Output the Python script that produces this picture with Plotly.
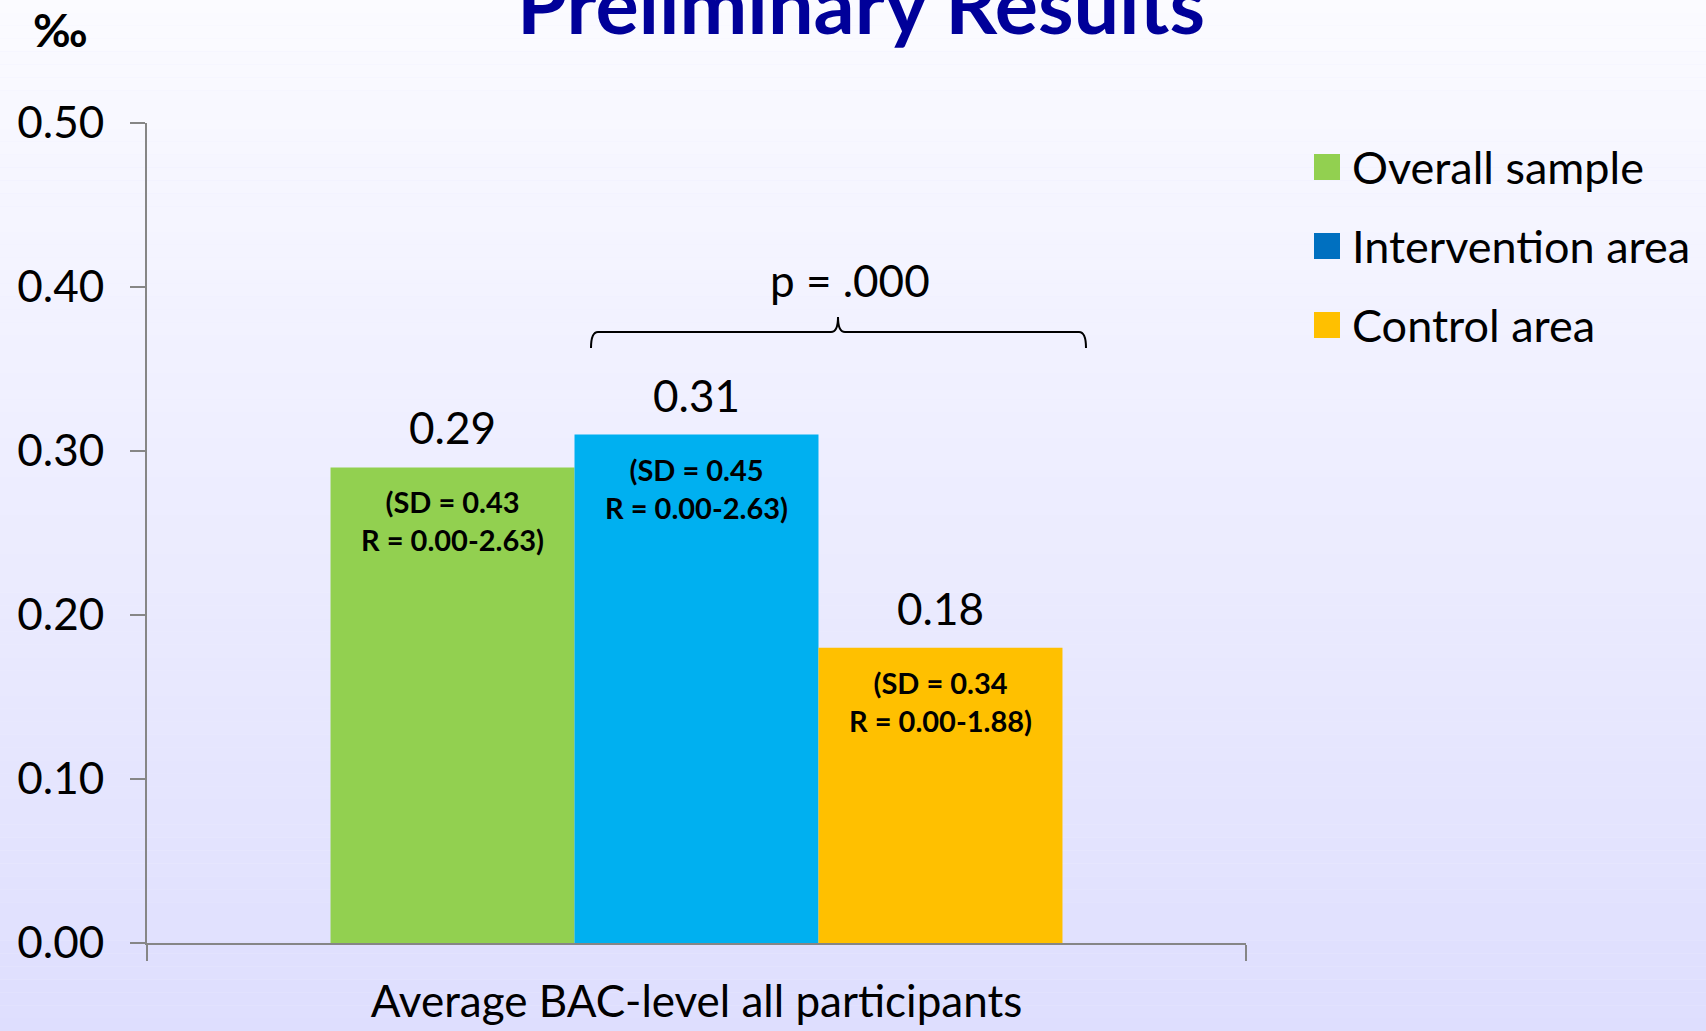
import plotly.graph_objects as go

# --- data -------------------------------------------------------------
category = ["Average BAC-level all participants"]
series_names = ["Overall sample", "Intervention area", "Control area"]
means = [0.29, 0.31, 0.18]
sds = [0.43, 0.45, 0.34]
ranges = ["0.00-2.63", "0.00-2.63", "0.00-1.88"]
y_ticks = [0.0, 0.1, 0.2, 0.3, 0.4, 0.5]
p_value_text = "p = .000"

bar_colors = ["#92D050", "#00B0F0", "#FFC000"]
legend_colors = ["#92D050", "#0070C0", "#FFC000"]

FONT = "Lato"
W, H = 1706, 1031
ML, MR, MT, MB = 147, 460, 123, 88
PW, PH = W - ML - MR, H - MT - MB
BARGAP = 0.334


def px_x(px):
    """Pixel column -> paper x."""
    return (px - ML) / PW


def px_y(py):
    """Pixel row -> paper y."""
    return (H - MB - py) / PH


fig = go.Figure()

for name, val, col in zip(series_names, means, bar_colors):
    fig.add_trace(go.Bar(
        x=category, y=[val], name=name,
        marker=dict(color=col, line=dict(width=0)),
        showlegend=False, hoverinfo="skip",
    ))

# bar centres inside the single category (serial-number scale)
n = len(means)
bw = (1 - BARGAP) / n
centres = [-(1 - BARGAP) / 2 + bw * (i + 0.5) for i in range(n)]

annotations = []
shapes = []

# background gradient, light at the top to lavender at the bottom
top_c = (251, 251, 255)
bot_c = (222, 222, 254)
bands = 80
y_top, y_bot = px_y(0), px_y(H)
for i in range(bands):
    t = (i + 0.5) / bands
    c = tuple(round(a + (b - a) * t) for a, b in zip(top_c, bot_c))
    y0 = y_top + (y_bot - y_top) * i / bands
    y1 = y_top + (y_bot - y_top) * (i + 1) / bands
    shapes.append(dict(
        type="rect", xref="paper", yref="paper",
        x0=px_x(0), x1=px_x(W), y0=y0, y1=y1,
        fillcolor="rgb(%d,%d,%d)" % c, line=dict(width=0), layer="below",
    ))

# value labels above bars and SD/range notes inside bars
for xc, val, sd, rg in zip(centres, means, sds, ranges):
    annotations.append(dict(
        x=xc, y=val, xref="x", yref="y", text=f"{val:.2f}",
        showarrow=False, xanchor="center", yanchor="bottom", yshift=12,
        font=dict(family=FONT, size=44, color="black"),
    ))
    annotations.append(dict(
        x=xc, y=val, xref="x", yref="y",
        text=f"<b>(SD = {sd:.2f}<br>R = {rg})</b>",
        showarrow=False, xanchor="center", yanchor="top", yshift=-15,
        font=dict(family=FONT, size=29, color="black"),
    ))

# legend drawn as squares + labels
legend_rows = [167, 246, 325]
for name, col, yc in zip(series_names, legend_colors, legend_rows):
    shapes.append(dict(
        type="rect", xref="paper", yref="paper",
        x0=px_x(1314), x1=px_x(1340), y0=px_y(yc + 13), y1=px_y(yc - 13),
        fillcolor=col, line=dict(width=0),
    ))
    annotations.append(dict(
        x=px_x(1350), y=px_y(yc), xref="paper", yref="paper", text=name,
        showarrow=False, xanchor="left", yanchor="middle",
        font=dict(family=FONT, size=45, color="black"),
    ))

# significance bracket
L, R, C = px_x(591), px_x(1086), px_x(838)
dx = 7 / PW
y_line, y_end, y_cusp = px_y(332), px_y(348), px_y(317)
path = (
    f"M {L},{y_end} Q {L},{y_line} {L + dx},{y_line} "
    f"L {C - dx},{y_line} Q {C},{y_line} {C},{y_cusp} "
    f"Q {C},{y_line} {C + dx},{y_line} "
    f"L {R - dx},{y_line} Q {R},{y_line} {R},{y_end}"
)
shapes.append(dict(type="path", xref="paper", yref="paper", path=path,
                   line=dict(color="black", width=2)))
annotations.append(dict(
    x=px_x(850), y=px_y(280), xref="paper", yref="paper", text=p_value_text,
    showarrow=False, xanchor="center", yanchor="middle",
    font=dict(family=FONT, size=44, color="black"),
))

# unit label and slide title
annotations.append(dict(
    x=px_x(60), y=px_y(30), xref="paper", yref="paper", text="<b>‰</b>",
    showarrow=False, xanchor="center", yanchor="middle",
    font=dict(family=FONT, size=46, color="black"),
))
annotations.append(dict(
    x=px_x(861), y=px_y(2), xref="paper", yref="paper",
    text="<b>Preliminary Results</b>", showarrow=False,
    xanchor="center", yanchor="middle",
    font=dict(family=FONT, size=81, color="#000099"),
))

axis_gray = "#868686"
fig.update_layout(
    width=W, height=H,
    margin=dict(l=ML, r=MR, t=MT, b=MB, pad=0, autoexpand=False),
    paper_bgcolor="rgb(237,237,254)",
    plot_bgcolor="rgba(0,0,0,0)",
    barmode="group", bargap=BARGAP, bargroupgap=0,
    showlegend=False,
    shapes=shapes, annotations=annotations,
    font=dict(family=FONT, color="black"),
)
fig.update_yaxes(
    range=[0, 0.5], tickvals=y_ticks, tickformat=".2f",
    ticks="outside", ticklen=15, tickwidth=2, tickcolor=axis_gray,
    showline=True, linecolor=axis_gray, linewidth=2,
    showgrid=False, zeroline=False, ticklabelstandoff=17, automargin=False,
    tickfont=dict(family=FONT, size=44, color="black"),
)
fig.update_xaxes(
    type="category", tickson="boundaries",
    ticks="outside", ticklen=16, tickwidth=2, tickcolor=axis_gray,
    showline=True, linecolor=axis_gray, linewidth=2,
    showgrid=False, zeroline=False, ticklabelstandoff=19, automargin=False,
    tickfont=dict(family=FONT, size=44, color="black"),
)

fig.write_html("out.html")
